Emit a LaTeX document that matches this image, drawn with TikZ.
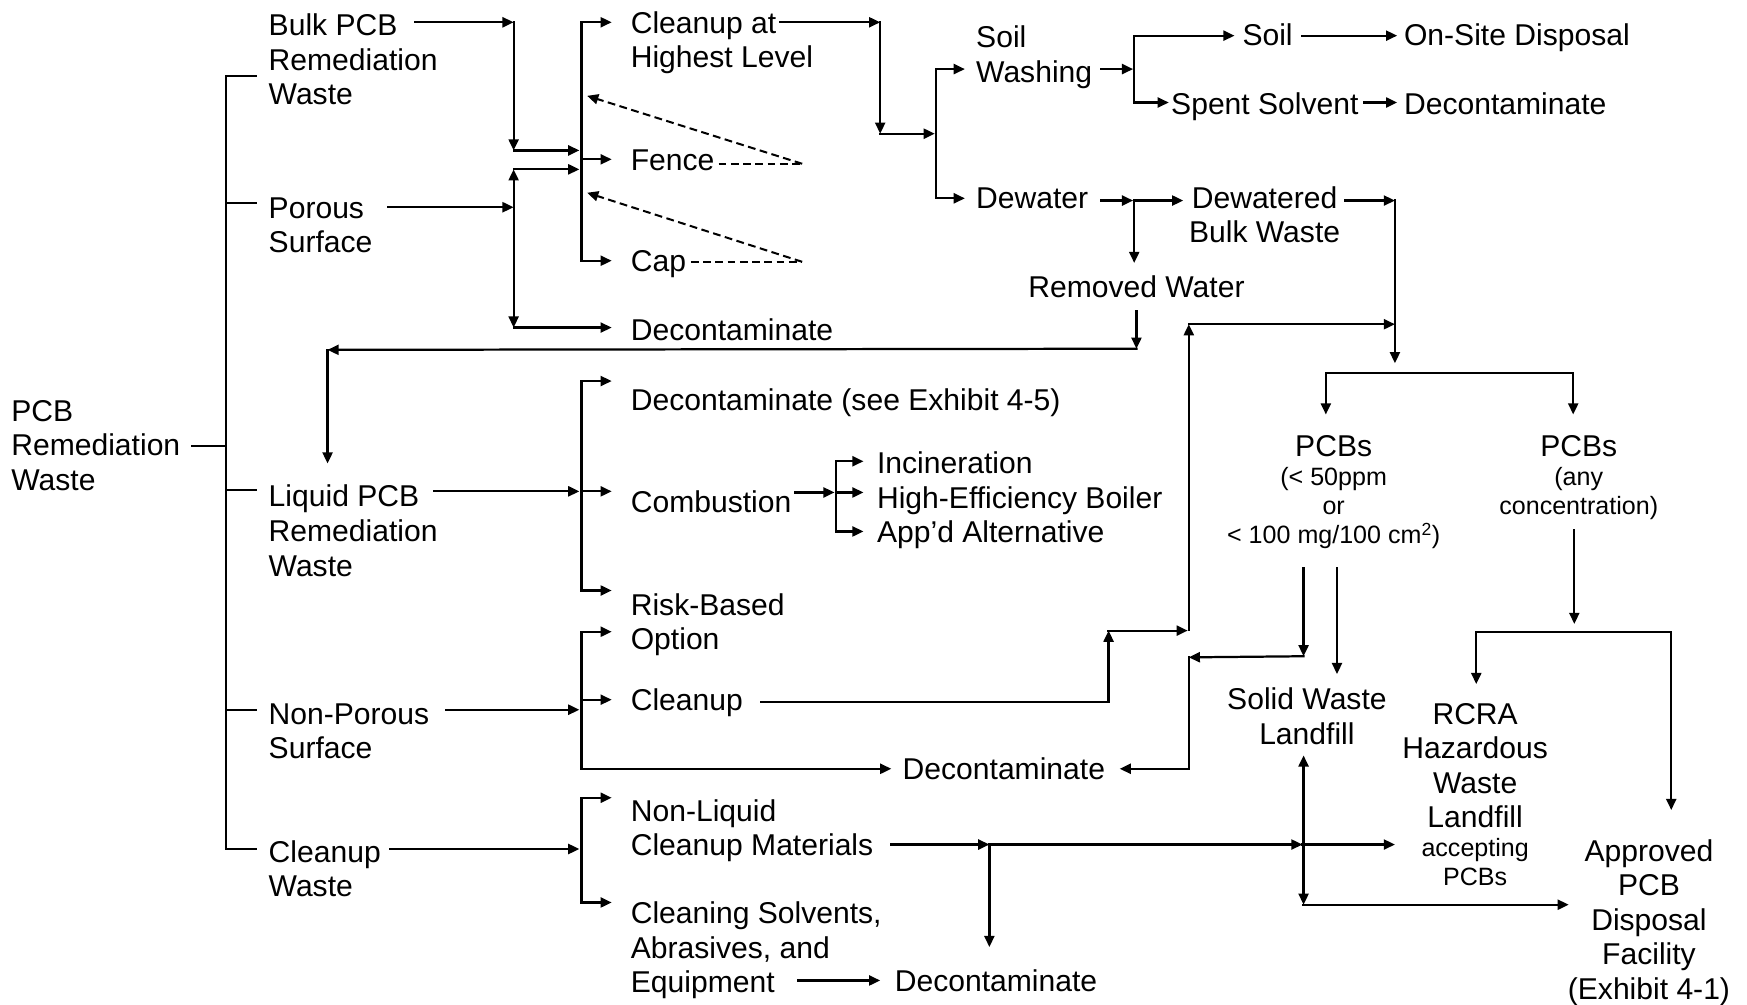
\documentclass[tikz,border=0pt]{standalone}
\usepackage{fontspec}
\setmainfont{Liberation Sans}
\usetikzlibrary{arrows.meta}
\begin{document}
\begin{tikzpicture}[x=1pt,y=-1pt,
  lbl/.style={inner sep=0pt, anchor=base west, align=left, font=\fontsize{27}{31}\selectfont},
  clbl/.style={inner sep=0pt, anchor=base, align=center, font=\fontsize{27}{31}\selectfont},
  slbl/.style={inner sep=0pt, anchor=base, align=center, font=\fontsize{22.5}{26}\selectfont},
  wire/.style={line width=2pt, line cap=rect, line join=miter},
  arr/.style={wire, -{Triangle[length=10pt,width=9pt]}},
  darr/.style={wire, {Triangle[length=10pt,width=9pt]}-{Triangle[length=10pt,width=9pt]}},
  dline/.style={line width=1.8pt, dash pattern=on 7pt off 4pt}
]
\useasboundingbox (0,0) rectangle (1568,902);

% ---------- labels (placed by the baseline of their last line) ----------
\node[lbl] (root)   at (10,440)  {PCB\\Remediation\\Waste};
\node[lbl] (bulk)   at (241,94)  {Bulk PCB\\Remediation\\Waste};
\node[lbl] (porous) at (241,227) {Porous\\Surface};
\node[lbl] (liquid) at (241,517) {Liquid PCB\\Remediation\\Waste};
\node[lbl] (nonpor) at (241,681) {Non-Porous\\Surface};
\node[lbl] (cwaste) at (241,805) {Cleanup\\Waste};

\node[lbl] (clh)    at (566,61)  {Cleanup at\\Highest Level};
\node[lbl] (fence)  at (566,153) {Fence};
\node[lbl] (cap)    at (566,244) {Cap};
\node[lbl] (decA)   at (566,306) {Decontaminate};
\node[lbl] (soilw)  at (876,74)  {Soil\\Washing};
\node[lbl] (dewat)  at (876,187) {Dewater};
\node[lbl] (soil)   at (1115,41) {Soil};
\node[lbl] (onsite) at (1260,41) {On-Site Disposal};
\node[lbl] (spent)  at (1051,103) {Spent Solvent};
\node[lbl] (decB)   at (1260,103) {Decontaminate};
\node[clbl] (dwb)   at (1135,218) {Dewatered\\Bulk Waste};
\node[clbl] (remw)  at (1020,267) {Removed Water};

\node[lbl] (dec45)  at (566,368) {Decontaminate (see Exhibit 4-5)};
\node[lbl] (comb)   at (566,460) {Combustion};
\node[lbl] (incin)  at (787,425) {Incineration};
\node[lbl] (hiboil) at (787,456) {High-Efficiency Boiler};
\node[lbl] (appd)   at (787,487) {App’d Alternative};
\node[lbl] (risk)   at (566,583) {Risk-Based\\Option};
\node[lbl] (clean)  at (566,638) {Cleanup};
\node[lbl] (decC)   at (810,700) {Decontaminate};
\node[lbl] (nonliq) at (566,768) {Non-Liquid\\Cleanup Materials};
\node[lbl] (solv)   at (566,891) {Cleaning Solvents,\\Abrasives, and\\Equipment};
\node[lbl] (decD)   at (803,890) {Decontaminate};

\node[slbl] (pcbA)  at (1197,488) {{\fontsize{27}{31}\selectfont PCBs}\\(< 50ppm\\or\\< 100 mg/100 cm\textsuperscript{2})};
\node[slbl] (pcbB)  at (1417,462) {{\fontsize{27}{31}\selectfont PCBs}\\(any\\concentration)};
\node[clbl] (swl)   at (1173,668) {Solid Waste\\Landfill};
\node[clbl] (rcra)  at (1324,795) {RCRA\\Hazardous\\Waste\\Landfill\\[-5pt]{\fontsize{22.5}{26}\selectfont accepting}\\[-5pt]{\fontsize{22.5}{26}\selectfont PCBs}};
\node[clbl] (appr)  at (1480,897) {Approved\\PCB\\Disposal\\Facility\\(Exhibit 4-1)};

% ---------- junction points ----------
\coordinate (r0) at (172,400);  \coordinate (r1) at (203,400);
\coordinate (kA0) at (230,68);  \coordinate (kA) at (203,68);
\coordinate (kB0) at (230,182); \coordinate (kB) at (203,182);
\coordinate (kC0) at (230,440); \coordinate (kC) at (203,440);
\coordinate (kD0) at (230,637); \coordinate (kD) at (203,637);
\coordinate (kE0) at (230,762); \coordinate (kE) at (203,762);

\coordinate (bu0) at (373,20);  \coordinate (bu1) at (461,20);
\coordinate (bu2) at (461,135); \coordinate (bu3) at (520,135);
\coordinate (po0) at (348,186); \coordinate (po1) at (461,186);
\coordinate (po2) at (461,152); \coordinate (po3) at (520,152);
\coordinate (po4) at (461,294); \coordinate (po5) at (549,294);

\coordinate (s1t) at (522,20);  \coordinate (s1m) at (522,143); \coordinate (s1b) at (522,234);
\coordinate (s1a) at (549,20);  \coordinate (s1f) at (549,143); \coordinate (s1c) at (549,234);
\coordinate (fe0) at (645,147); \coordinate (fe1) at (720,147); \coordinate (fe2) at (527,86);
\coordinate (ca0) at (620,235); \coordinate (ca1) at (720,235); \coordinate (ca2) at (527,173);

\coordinate (cl0) at (700,20);  \coordinate (cl1) at (790,20);
\coordinate (cl2) at (790,120); \coordinate (cl3) at (839,120);
\coordinate (s2t) at (840,62);  \coordinate (s2b) at (840,178);
\coordinate (s2a) at (866,62);  \coordinate (s2c) at (866,178);

\coordinate (sw0) at (988,62);  \coordinate (sw1) at (1017,62);
\coordinate (s3t) at (1018,32); \coordinate (s3b) at (1018,92);
\coordinate (s3a) at (1108,32); \coordinate (s3c) at (1049,92);
\coordinate (so0) at (1169,32); \coordinate (so1) at (1254,32);
\coordinate (sp0) at (1224,92); \coordinate (sp1) at (1254,92);

\coordinate (dw0) at (988,180);  \coordinate (dw1) at (1017,180);
\coordinate (dw2) at (1018,180); \coordinate (dw3) at (1062,180);
\coordinate (dw4) at (1018,236);
\coordinate (db0) at (1207,180); \coordinate (db1) at (1252,180);
\coordinate (db2) at (1252,326);
\coordinate (rw0) at (1020,279); \coordinate (rw1) at (1020,313);
\coordinate (rw2) at (294,314);  \coordinate (rw3) at (294,416);

\coordinate (rb0) at (1190,335); \coordinate (rb1) at (1412,335);
\coordinate (rb2) at (1190,372); \coordinate (rb3) at (1412,372);

\coordinate (up0) at (1067,565); \coordinate (up1) at (1067,291);
\coordinate (up2) at (1252,291);
\coordinate (cu0) at (683,630);  \coordinate (cu1) at (995,630);
\coordinate (cu2) at (995,566);  \coordinate (cu3) at (1066,566);

\coordinate (la0) at (1170,510); \coordinate (la1) at (1170,589);
\coordinate (la2) at (1067,590); \coordinate (la3) at (1067,690);
\coordinate (la4) at (1005,690);
\coordinate (lb0) at (1200,510); \coordinate (lb1) at (1200,605);

\coordinate (vv0) at (1170,678); \coordinate (vv1) at (1170,812);
\coordinate (nl0) at (800,758);  \coordinate (nl1) at (888,758);
\coordinate (nl2) at (1169,758); \coordinate (nl3) at (1252,758);
\coordinate (nl4) at (888,850);
\coordinate (ap0) at (1170,812); \coordinate (ap1) at (1408,812);
\coordinate (eq0) at (716,880);  \coordinate (eq1) at (790,880);

\coordinate (an0) at (1413,476); \coordinate (an1) at (1413,560);
\coordinate (rr0) at (1325,567); \coordinate (rr1) at (1500,567);
\coordinate (rr2) at (1325,614); \coordinate (rr3) at (1500,727);

\coordinate (lq0) at (390,441);  \coordinate (lq1) at (520,441);
\coordinate (s4t) at (522,342);  \coordinate (s4m) at (522,441); \coordinate (s4b) at (522,530);
\coordinate (s4a) at (549,342);  \coordinate (s4c) at (549,441); \coordinate (s4d) at (549,530);
\coordinate (co0) at (714,442);  \coordinate (co1) at (749,442);
\coordinate (s5t) at (750,414);  \coordinate (s5m) at (750,442); \coordinate (s5b) at (750,477);
\coordinate (s5a) at (775,414);  \coordinate (s5c) at (775,442); \coordinate (s5d) at (775,477);

\coordinate (np0) at (400,637);  \coordinate (np1) at (520,637);
\coordinate (s6t) at (522,567);  \coordinate (s6m) at (522,628); \coordinate (s6b) at (522,690);
\coordinate (s6a) at (549,567);  \coordinate (s6c) at (549,628); \coordinate (s6d) at (800,690);

\coordinate (cw0) at (350,762);  \coordinate (cw1) at (520,762);
\coordinate (s7t) at (522,716);  \coordinate (s7b) at (522,810);
\coordinate (s7a) at (549,716);  \coordinate (s7c) at (549,810);

% ---------- connectors ----------
\draw[wire] (r0) -- (r1);
\draw[wire] (kA0) -- (kA) -- (kE) -- (kE0);
\draw[wire] (kB) -- (kB0);
\draw[wire] (kC) -- (kC0);
\draw[wire] (kD) -- (kD0);

% bulk and porous inputs
\draw[arr] (bu0) -- (bu1);
\draw[arr] (bu1) -- (bu2);
\draw[arr] (bu2) -- (bu3);
\draw[arr] (po0) -- (po1);
\draw[darr] (po2) -- (po4);
\draw[arr] (po2) -- (po3);
\draw[arr] (po4) -- (po5);

% first split: cleanup / fence / cap
\draw[wire] (s1t) -- (s1b);
\draw[arr] (s1t) -- (s1a);
\draw[arr] (s1m) -- (s1f);
\draw[arr] (s1b) -- (s1c);
\draw[dline] (fe0) -- (fe1);
\draw[dline, -{Triangle[length=10pt,width=9pt]}] (fe1) -- (fe2);
\draw[dline] (ca0) -- (ca1);
\draw[dline, -{Triangle[length=10pt,width=9pt]}] (ca1) -- (ca2);

% cleanup at highest level
\draw[arr] (cl0) -- (cl1);
\draw[arr] (cl1) -- (cl2);
\draw[arr] (cl2) -- (cl3);
\draw[wire] (s2t) -- (s2b);
\draw[arr] (s2t) -- (s2a);
\draw[arr] (s2b) -- (s2c);

% soil washing
\draw[arr] (sw0) -- (sw1);
\draw[wire] (s3t) -- (s3b);
\draw[arr] (s3t) -- (s3a);
\draw[arr] (s3b) -- (s3c);
\draw[arr] (so0) -- (so1);
\draw[arr] (sp0) -- (sp1);

% dewatering
\draw[arr] (dw0) -- (dw1);
\draw[arr] (dw2) -- (dw3);
\draw[arr] (dw2) -- (dw4);
\draw[arr] (db0) -- (db1);
\draw[arr] (db1) -- (db2);
\draw[arr] (rw0) -- (rw1);
\draw[arr] (rw1) -- (rw2);
\draw[arr] (rw2) -- (rw3);

% PCB concentration split
\draw[wire] (rb0) -- (rb1);
\draw[arr] (rb0) -- (rb2);
\draw[arr] (rb1) -- (rb3);

% cleanup of non-porous surfaces feeding the disposal split
\draw[arr] (up0) -- (up1);
\draw[arr] (up1) -- (up2);
\draw[wire] (cu0) -- (cu1);
\draw[arr] (cu1) -- (cu2);
\draw[arr] (cu2) -- (cu3);

% low concentration routes
\draw[arr] (la0) -- (la1);
\draw[arr] (la1) -- (la2);
\draw[wire] (la2) -- (la3);
\draw[arr] (la3) -- (la4);
\draw[arr] (lb0) -- (lb1);

% landfill / facility links
\draw[darr] (vv0) -- (vv1);
\draw[arr] (nl0) -- (nl1);
\draw[arr] (nl1) -- (nl2);
\draw[arr] (nl2) -- (nl3);
\draw[arr] (nl1) -- (nl4);
\draw[arr] (ap0) -- (ap1);
\draw[arr] (eq0) -- (eq1);

% any concentration
\draw[arr] (an0) -- (an1);
\draw[wire] (rr0) -- (rr1);
\draw[arr] (rr0) -- (rr2);
\draw[arr] (rr1) -- (rr3);

% liquid waste
\draw[arr] (lq0) -- (lq1);
\draw[wire] (s4t) -- (s4b);
\draw[arr] (s4t) -- (s4a);
\draw[arr] (s4m) -- (s4c);
\draw[arr] (s4b) -- (s4d);
\draw[arr] (co0) -- (co1);
\draw[wire] (s5t) -- (s5b);
\draw[arr] (s5t) -- (s5a);
\draw[arr] (s5m) -- (s5c);
\draw[arr] (s5b) -- (s5d);

% non-porous surface
\draw[arr] (np0) -- (np1);
\draw[wire] (s6t) -- (s6b);
\draw[arr] (s6t) -- (s6a);
\draw[arr] (s6m) -- (s6c);
\draw[arr] (s6b) -- (s6d);

% cleanup waste
\draw[arr] (cw0) -- (cw1);
\draw[wire] (s7t) -- (s7b);
\draw[arr] (s7t) -- (s7a);
\draw[arr] (s7b) -- (s7c);
\end{tikzpicture}
\end{document}
